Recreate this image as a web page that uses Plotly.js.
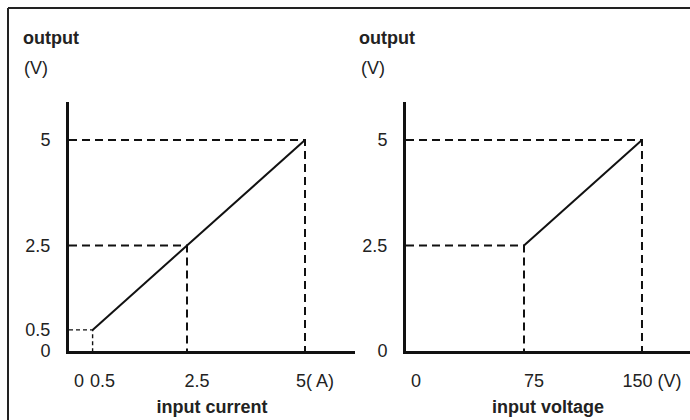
<!DOCTYPE html>
<html>
<head>
<meta charset="utf-8">
<script src="https://cdn.plot.ly/plotly-3.0.1.min.js"></script>
<style>html,body{margin:0;padding:0;background:#fff;}#chart{width:690px;height:420px;}</style>
</head>
<body>
<div id="chart"></div>
<script>
// Left panel: output (V) vs input current (A)
const currentIn = [0.5, 5];
const currentOut = [0.5, 5];
const currentGuides = [[0.5, 0.5], [2.5, 2.5], [5, 5]];
const currentTickVals = [0, 0.5, 2.5, 5];
const currentTickText = ["0", "0.5", "2.5", "5( A)"];
const currentYTicks = [0, 0.5, 2.5, 5];

// Right panel: output (V) vs input voltage (V)
const voltageIn = [75, 150];
const voltageOut = [2.5, 5];
const voltageGuides = [[75, 2.5], [150, 5]];
const voltageTickVals = [0, 75, 150];
const voltageTickText = ["0", "75", "150 (V)"];
const voltageYTicks = [0, 2.5, 5];

const yLabel = "output";
const yUnit = "(V)";
const xTitleLeft = "input current";
const xTitleRight = "input voltage";

const FONT = "Liberation Sans, Arial, sans-serif";
const INK = "#111";
const W = 690, H = 420;

function guideTraces(guides, xa, ya, thinFirst) {
  return guides.map((g, i) => {
    const thin = thinFirst && i === 0;
    return {
      x: [0, g[0], g[0]], y: [g[1], g[1], 0],
      xaxis: xa, yaxis: ya, mode: "lines", hoverinfo: "skip", showlegend: false,
      line: {color: INK, width: thin ? 1.4 : 2, dash: thin ? "4px,3px" : "8px,5px"}
    };
  });
}

const traces = [
  ...guideTraces(currentGuides, "x", "y", true),
  ...guideTraces(voltageGuides, "x2", "y2", false),
  {x: currentIn, y: currentOut, xaxis: "x", yaxis: "y", mode: "lines", showlegend: false,
   line: {color: INK, width: 2}},
  {x: voltageIn, y: voltageOut, xaxis: "x2", yaxis: "y2", mode: "lines", showlegend: false,
   line: {color: INK, width: 2}}
];

const tickFont = {family: FONT, size: 18, color: "#222"};
const titleFont = {family: FONT, size: 18, color: "#222", weight: "bold"};

function xAxis(domain, range, vals, text, title) {
  return {
    domain: domain, range: range, tickmode: "array", tickvals: vals, ticktext: text,
    showgrid: false, zeroline: false, showline: true, linecolor: INK, linewidth: 3,
    ticks: "", ticklabelshift: 10, ticklabelstandoff: 11, tickfont: tickFont,
    title: {text: title, font: titleFont, standoff: 11}, fixedrange: true
  };
}
function yAxis(domain, range, vals, anchor) {
  return {
    domain: domain, range: range, tickmode: "array", tickvals: vals, ticktext: vals.map(String),
    showgrid: false, zeroline: false, showline: true, linecolor: INK, linewidth: 3,
    ticks: "", ticklabelstandoff: 12, tickfont: tickFont, anchor: anchor, fixedrange: true
  };
}

const yDom = [(H - 351) / H, (H - 102) / H];
const yRange = [0, (351 - 102) / 42.2];

const layout = {
  width: W, height: H, margin: {l: 0, r: 0, t: 0, b: 0},
  paper_bgcolor: "#fff", plot_bgcolor: "#fff",
  xaxis: xAxis([69 / W, 355 / W], [0, (355 - 69) / 47.2], currentTickVals, currentTickText, xTitleLeft),
  yaxis: yAxis(yDom, yRange, currentYTicks, "x"),
  xaxis2: Object.assign(xAxis([406 / W, 1], [0, (690 - 406) / 1.5733], voltageTickVals, voltageTickText, xTitleRight), {anchor: "y2"}),
  yaxis2: yAxis(yDom, yRange, voltageYTicks, "x2"),
  annotations: [
    {text: "<b>" + yLabel + "</b>", x: 21 / W, y: 1 - 38 / H, xref: "paper", yref: "paper", xanchor: "left", yanchor: "middle", showarrow: false, font: titleFont},
    {text: yUnit, x: 22 / W, y: 1 - 68 / H, xref: "paper", yref: "paper", xanchor: "left", yanchor: "middle", showarrow: false, font: tickFont},
    {text: "<b>" + yLabel + "</b>", x: 357 / W, y: 1 - 38 / H, xref: "paper", yref: "paper", xanchor: "left", yanchor: "middle", showarrow: false, font: titleFont},
    {text: yUnit, x: 359 / W, y: 1 - 68 / H, xref: "paper", yref: "paper", xanchor: "left", yanchor: "middle", showarrow: false, font: tickFont}
  ],
  shapes: [
    {type: "line", xref: "paper", yref: "paper", x0: 8 / W, x1: 1, y0: 1 - 8 / H, y1: 1 - 8 / H, line: {color: "#222", width: 2}},
    {type: "line", xref: "paper", yref: "paper", x0: 8 / W, x1: 8 / W, y0: 0, y1: 1 - 8 / H, line: {color: "#222", width: 2}}
  ]
};

Plotly.newPlot("chart", traces, layout, {displayModeBar: false, staticPlot: true});
</script>
</body>
</html>
